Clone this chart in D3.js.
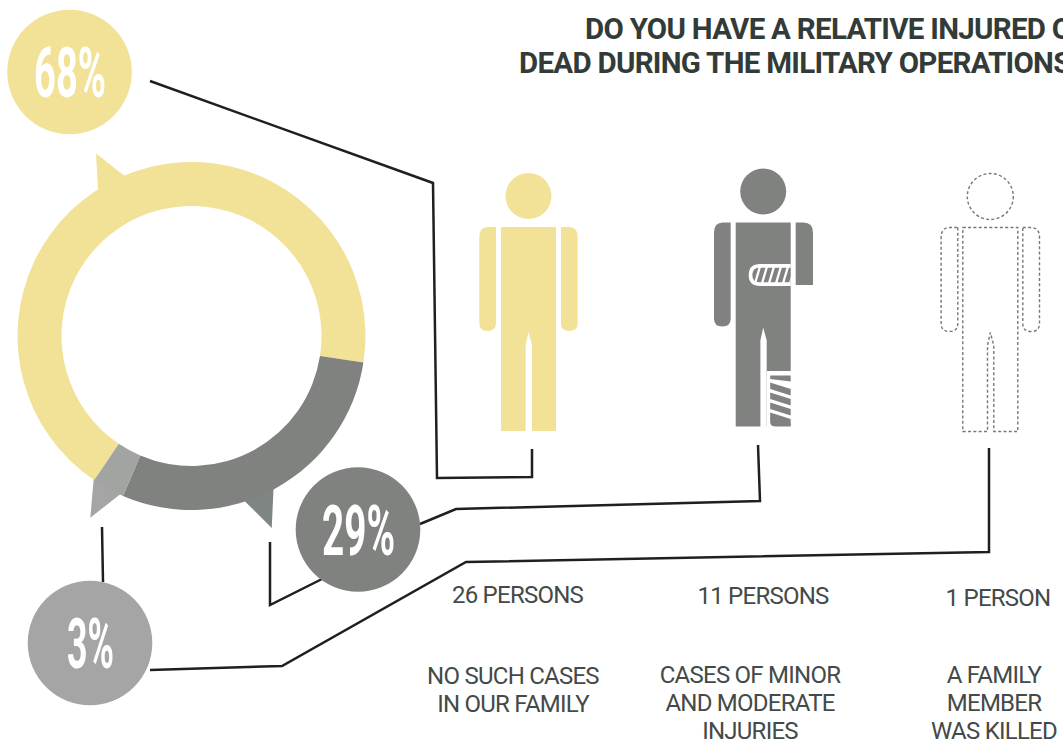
<!DOCTYPE html>
<html>
<head>
<meta charset="utf-8">
<script src="https://cdn.jsdelivr.net/npm/d3@7/dist/d3.min.js"></script>
<style>
html,body{margin:0;padding:0;background:#fff;overflow:hidden}
svg{display:block}
.cap{font-family:Roboto,sans-serif;font-weight:400;font-size:24px;letter-spacing:-0.75px;fill:#434a48;text-anchor:middle}
.ttl{font-family:Roboto,sans-serif;font-weight:700;font-size:29.5px;letter-spacing:-0.72px;fill:#333b38}
.pct{font-family:Roboto,sans-serif;font-weight:700;fill:#fff;text-anchor:middle}
.lead{fill:none;stroke:#1f1f1f;stroke-width:2.5;stroke-linejoin:miter}
</style>
</head>
<body>
<svg id="chart" width="1063" height="742"></svg>
<script>
// Survey answers
const outcomes = ["none", "injured", "killed"];
const shares = [68, 29, 3];
const shareLabels = ["68%", "29%", "3%"];
const counts = ["26 PERSONS", "11 PERSONS", "1 PERSON"];
const descriptions = [
  ["NO SUCH CASES", "IN OUR FAMILY"],
  ["CASES OF MINOR", "AND MODERATE", "INJURIES"],
  ["A FAMILY", "MEMBER", "WAS KILLED"]
];
const titleLines = ["DO YOU HAVE A RELATIVE INJURED OR", "DEAD DURING THE MILITARY OPERATIONS?"];

const svg = d3.select("#chart");
const colour = d3.scaleOrdinal(outcomes, ["#f2e297", "#808280", "#a2a4a2"]);
const badgeColour = d3.scaleOrdinal(outcomes, ["#f2e297", "#808280", "#a5a5a5"]);
const tailColour = d3.scaleOrdinal(outcomes, ["#f2e297", "#7f8583", "#a5a5a5"]);

// Donut
const cx = 191.5, cy = 336, rOuter = 174, rInner = 130;
const rad = Math.PI / 180;
const start = -146 * rad;
const pie = d3.pie().sort(null).startAngle(start).endAngle(start + 2 * Math.PI);
const arcs = pie(shares);
const arc = d3.arc().innerRadius(rInner).outerRadius(rOuter);
const donut = svg.append("g").attr("transform", `translate(${cx},${cy})`);

// Speech-bubble tails: each one is given in polar form around the donut centre
const polar = (deg, r) => [r * Math.sin(deg * rad), -r * Math.cos(deg * rad)];
const tails = [
  { key: "none", pts: [[-32.9, 172], [-27.6, 206], [-22.4, 172]] },
  { key: "injured", pts: [[151.5, 172], [157.3, 208], [162.4, 172]] },
  { key: "killed", pts: [[214.6, 172], [209.1, 208], [204, 172]] }
];
donut.selectAll("path.tail").data(tails).join("path")
  .attr("class", "tail")
  .attr("fill", d => tailColour(d.key))
  .attr("d", d => "M" + d.pts.map(p => polar(p[0], p[1]).join(",")).join("L") + "Z");

donut.selectAll("path.slice").data(arcs).join("path")
  .attr("class", "slice")
  .attr("fill", (d, i) => colour(outcomes[i]))
  .attr("d", arc);

// Share badges
const badgeX = d3.scaleOrdinal(outcomes, [69.5, 358, 90]);
const badgeY = d3.scaleOrdinal(outcomes, [72, 529.5, 643]);
const badgeTextWidth = d3.scaleOrdinal(outcomes, [72, 73, 47]);

// Leader lines from badges to figures
const leaders = [
  [[150, 81], [433, 183], [437, 478], [532, 477], [532, 449]],
  [[420, 524], [456, 509], [760, 501], [758, 445]],
  [[270, 542], [270, 605], [322, 579]],
  [[102, 527], [103, 582]],
  [[150, 670], [282, 666], [466, 562], [989, 552], [989, 448]]
];
svg.selectAll("path.lead").data(leaders).join("path")
  .attr("class", "lead")
  .attr("d", d3.line());

outcomes.forEach((k, i) => {
  svg.append("circle").attr("cx", badgeX(k)).attr("cy", badgeY(k)).attr("r", 62.3).attr("fill", badgeColour(k));
  svg.append("text").attr("class", "pct")
    .attr("x", badgeX(k) + 0.5).attr("y", badgeY(k) + 25)
    .attr("font-size", 71)
    .attr("textLength", badgeTextWidth(k))
    .attr("lengthAdjust", "spacingAndGlyphs")
    .text(shareLabels[i]);
});

// Pictogram outline, local coordinates centred on the figure's axis, head centre at y=0
function bodyPath() {
  return "M-27.5,31 H27.5 V235 H3.5 V149 L0,136 L-2.8,149 V235 H-27.5 Z";
}
function armPath(side, bottom) {
  const a = side < 0 ? -49.2 : 32.5, b = side < 0 ? -32.5 : 49.2;
  if (side < 0) {
    return `M${b},31 V${bottom - 8} Q${b},${bottom} ${b - 8.3},${bottom} Q${a},${bottom} ${a},${bottom - 8} V41 Q${a},31 ${a + 9},31 Z`;
  }
  return `M${a},31 H${b - 9} Q${b},31 ${b},41 V${bottom - 8} Q${b},${bottom} ${b - 8.3},${bottom} Q${a},${bottom} ${a},${bottom - 8} Z`;
}
const figureX = d3.scaleOrdinal(outcomes, [528.5, 763.2, 990.3]);
const figureY = d3.scaleOrdinal(outcomes, [196, 191.5, 196.5]);
const figures = svg.selectAll("g.figure").data(outcomes).join("g")
  .attr("class", "figure")
  .attr("transform", d => `translate(${figureX(d)},${figureY(d)})`);

figures.each(function (k) {
  const g = d3.select(this);
  if (k === "killed") {
    const dashed = g.append("g").attr("fill", "none").attr("stroke", "#777")
      .attr("stroke-width", 1.4).attr("stroke-dasharray", "3 2.3");
    dashed.append("circle").attr("r", 23);
    dashed.append("path").attr("d", bodyPath());
    dashed.append("path").attr("d", armPath(-1, 135));
    dashed.append("path").attr("d", armPath(1, 135));
    return;
  }
  const fill = colour(k);
  g.append("circle").attr("r", 23).attr("fill", fill);
  g.append("path").attr("d", bodyPath()).attr("fill", fill);
  g.append("path").attr("d", armPath(-1, 135)).attr("fill", fill);
  if (k === "none") {
    g.append("path").attr("d", armPath(1, 135)).attr("fill", fill);
    return;
  }
  // Injured figure: shortened arm in a sling and a plastered leg
  g.append("path").attr("d", "M32.5,31 H40.2 Q49.8,31 49.8,41 V93.5 H32.5 Z").attr("fill", fill);
  g.append("path").attr("d", "M27.5,72.5 H-3 Q-14.5,72.5 -14.5,83.5 Q-14.5,94.5 -3,94.5 H27.5 Z").attr("fill", "#fff");
  // Sling hatching, clipped to a rounded pocket
  const clipId = "sling-clip";
  g.append("clipPath").attr("id", clipId).append("path")
    .attr("d", "M27.5,76 H-3 Q-11,76 -11,83.5 Q-11,91 -3,91 H27.5 Z");
  const slingStripes = [-14, -7, 0, 7, 14, 21];
  g.append("g").attr("clip-path", `url(#${clipId})`).selectAll("path").data(slingStripes).join("path")
    .attr("fill", fill)
    .attr("d", s => `M${s + 5},75 H${s + 9.6} L${s + 4.6},92 H${s} Z`);
  g.append("rect").attr("x", 3.5).attr("y", 179.5).attr("width", 24.5).attr("height", 56).attr("fill", "#fff");
  // Plaster cast hatching
  g.append("path").attr("fill", fill).attr("d", "M7,184 H27.5 V190 L7,187.5 Z");
  const legStripes = [188.5, 198.5, 208.5, 218.5];
  g.selectAll("path.cast").data(legStripes).join("path").attr("class", "cast").attr("fill", fill)
    .attr("d", s => `M7,${s + 2.5} L27.5,${s + 9} V${s + 15.5} L7,${s + 9} Z`);
  g.append("path").attr("fill", fill).attr("d", "M7,225.5 L27.5,232 V235 H13 Q7,235 7,231 Z");
});

// Captions
const countX = d3.scaleOrdinal(outcomes, [517.5, 763, 998]);
const countY = d3.scaleOrdinal(outcomes, [603, 604, 606]);
const descX = d3.scaleOrdinal(outcomes, [513, 750, 994]);
const descY = d3.scaleOrdinal(outcomes, [683.5, 682.5, 682.5]);
outcomes.forEach((k, i) => {
  svg.append("text").attr("class", "cap").attr("x", countX(k)).attr("y", countY(k)).text(counts[i]);
  descriptions[i].forEach((line, j) => {
    svg.append("text").attr("class", "cap").attr("x", descX(k)).attr("y", descY(k) + j * 28).text(line);
  });
});

// Heading
const titleX = [585, 519], titleY = [39, 73];
titleLines.forEach((t, i) => {
  svg.append("text").attr("class", "ttl").attr("x", titleX[i]).attr("y", titleY[i]).text(t);
});
</script>
</body>
</html>
